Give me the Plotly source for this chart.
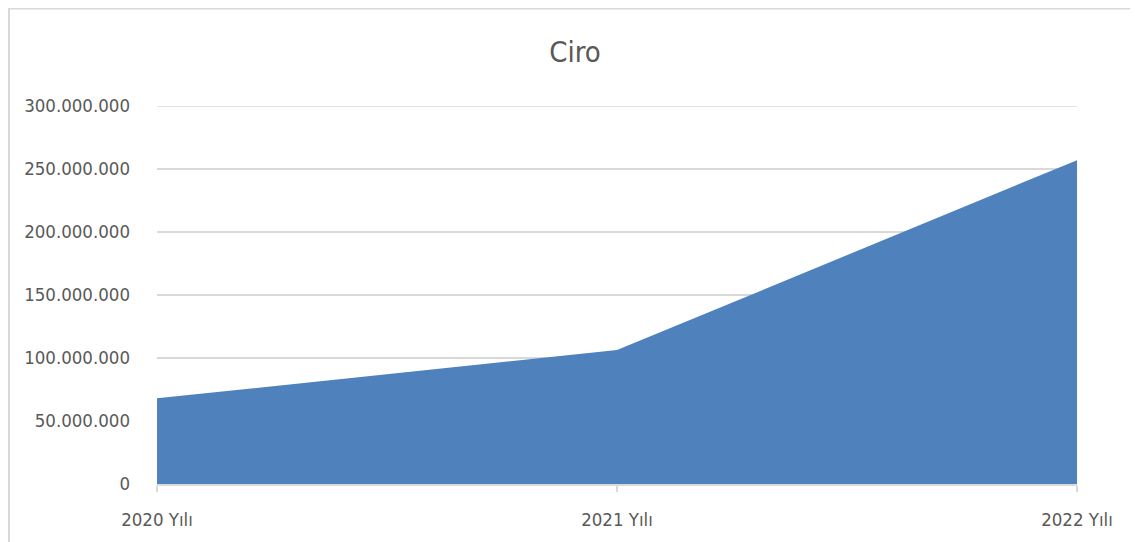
import plotly.graph_objects as go

years = ["2020 Yılı", "2021 Yılı", "2022 Yılı"]
ciro = [68000000, 106300000, 257000000]
y_ticks = [0, 50000000, 100000000, 150000000, 200000000, 250000000, 300000000]

FONT = "DejaVu Sans Condensed, Roboto Condensed, Arial Narrow, sans-serif"
TXT = "#595959"
GRID = "#D9D9D9"

W, H = 1130, 534
L, R, T, B = 149, 61, 98, 58

fig = go.Figure()
fig.add_trace(go.Scatter(
    x=list(range(len(years))), y=ciro, mode="lines", fill="tozeroy",
    line=dict(color="#4F81BD", width=0), fillcolor="#4F81BD", hoverinfo="x+y",
    name="Ciro",
))

fig.update_layout(
    width=W, height=H,
    margin=dict(l=L, r=R, t=T, b=B),
    paper_bgcolor="white", plot_bgcolor="white",
    separators=",.",
    showlegend=False,
    font=dict(family=FONT, color=TXT, size=18),
    title=dict(text="Ciro", x=567 / W, xanchor="center", y=1 - 44 / H, yanchor="middle",
               font=dict(family=FONT, size=29, color=TXT)),
    xaxis=dict(
        tickmode="array", tickvals=list(range(len(years))), ticktext=years,
        range=[0, len(years) - 1], showgrid=False, zeroline=False,
        showline=True, linecolor=GRID, linewidth=1.5,
        ticks="outside", ticklen=6, tickcolor=GRID, tickwidth=1.5,
        ticklabelstandoff=12,
        tickfont=dict(family=FONT, size=18.5, color=TXT),
    ),
    yaxis=dict(
        range=[0, y_ticks[-1]], tickmode="array", tickvals=y_ticks,
        tickformat=",.0f", showgrid=True, gridcolor=GRID, gridwidth=1.5,
        zeroline=False, showline=False, ticks="", ticklabelstandoff=26,
        tickfont=dict(family=FONT, size=18.5, color=TXT),
    ),
)

# top gridline (at the range edge, which plotly omits)
fig.add_shape(type="line", xref="paper", yref="y", x0=0, x1=1,
              y0=y_ticks[-1], y1=y_ticks[-1], line=dict(color=GRID, width=1.5),
              layer="below")

pw, ph = W - L - R, H - T - B
fig.add_shape(type="rect", xref="paper", yref="paper",
              x0=(1 - L) / pw, x1=(W + 20 - L) / pw, y0=-(B + 20) / ph, y1=(T - 0.5) / ph + 1,
              line=dict(color=GRID, width=2), fillcolor="rgba(0,0,0,0)",
              layer="below")

fig.write_html("out.html")
